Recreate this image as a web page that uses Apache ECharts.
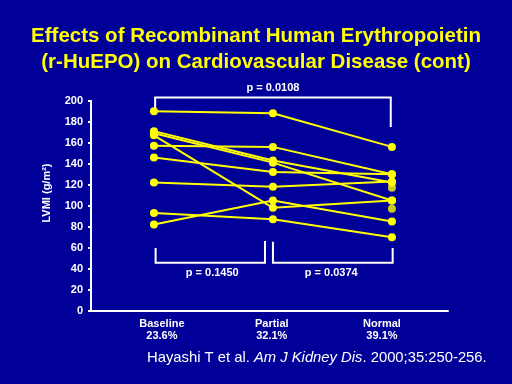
<!DOCTYPE html>
<html>
<head>
<meta charset="utf-8">
<script src="https://cdn.jsdelivr.net/npm/echarts@6/dist/echarts.min.js"></script>
<style>
html,body{margin:0;padding:0;background:#000099;}
#c{width:512px;height:384px;}
</style>
</head>
<body>
<div id="c"></div>
<script>
// Categories (x positions 0,1,2)
var categories = ['Baseline', 'Partial', 'Normal'];
var categoryPct = ['23.6%', '32.1%', '39.1%'];
// Individual patient LVMI values (g/m²): [Baseline, Partial, Normal]
var patient1 = [190, 188, 156];
var patient2 = [171, 143, 122];
var patient3 = [169, 141, 105];
var patient4 = [167, 98, 105];
var patient5 = [157, 156, 130];
var patient6 = [146, 132, 130];
var patient7 = [122, 118, 123];
var patient8 = [93, 87, 70];
var patient9 = [82, 105, 85];
// Normal-stage points drawn without connecting lines
var normalOnly = [117, 97];
// p-value annotations
var pTop = 'p = 0.0108';
var pLeft = 'p = 0.1450';
var pRight = 'p = 0.0374';
// Y-axis ticks
var yMin = 0, yMax = 200, yStep = 20;

var patients = [patient1, patient2, patient3, patient4, patient5, patient6, patient7, patient8, patient9];
var FONT = 'Liberation Sans, Arial, sans-serif';
var YEL = '#FFFF00';

var series = patients.map(function (p) {
  return {
    type: 'line',
    data: p.map(function (v, i) { return [i, v]; }),
    symbol: 'circle',
    symbolSize: 8,
    lineStyle: { color: YEL, width: 2 },
    itemStyle: { color: YEL },
    z: 3,
    animation: false
  };
});
series.push({
  type: 'scatter',
  data: normalOnly.map(function (v) { return [2, v]; }),
  symbol: 'circle',
  symbolSize: 8,
  itemStyle: { color: YEL },
  animation: false
});

var chart = echarts.init(document.getElementById('c'), null, { renderer: 'canvas' });
chart.setOption({
  backgroundColor: '#000099',
  animation: false,
  title: {
    text: 'Effects of Recombinant Human Erythropoietin\n(r-HuEPO) on Cardiovascular Disease (cont)',
    left: 'center',
    top: 18,
    textStyle: { color: YEL, fontFamily: FONT, fontWeight: 'bold', fontSize: 20.5, lineHeight: 26, align: 'center' }
  },
  grid: { left: 91, right: 64, top: 100.7, bottom: 73.3, containLabel: false },
  xAxis: {
    type: 'value',
    min: -0.529,
    max: 2.471,
    axisLine: { show: true, onZero: false, lineStyle: { color: '#FFFFFF', width: 2 } },
    axisTick: { show: false },
    splitLine: { show: false },
    axisLabel: {
      customValues: [0.067, 0.99, 1.916],
      color: '#FFFFFF',
      fontFamily: FONT,
      fontWeight: 'bold',
      fontSize: 11,
      lineHeight: 12,
      margin: 7,
      formatter: function (v) {
        var i = Math.round(v);
        return categories[i] + '\n' + categoryPct[i];
      }
    }
  },
  yAxis: {
    type: 'value',
    min: yMin,
    max: yMax,
    interval: yStep,
    axisLine: { show: true, onZero: false, lineStyle: { color: '#FFFFFF', width: 2 } },
    axisTick: { show: true, inside: false, length: 3, lineStyle: { color: '#FFFFFF', width: 2 } },
    splitLine: { show: false },
    axisLabel: { color: '#FFFFFF', fontFamily: FONT, fontWeight: 'bold', fontSize: 11, margin: 8 }
  },
  series: series
});

// Significance brackets, placed in data units through the chart's own scales
function px(x, y) { return chart.convertToPixel({ gridIndex: 0 }, [x, y]); }
var brackets = [
  { pts: [[0.01, 193], [0.01, 203], [1.99, 203], [1.99, 175]], label: pTop, at: [1.0, 212] },
  { pts: [[0.014, 59.7], [0.014, 45.7], [0.933, 45.7], [0.933, 66.4]], label: pLeft, at: [0.49, 36] },
  { pts: [[1.0, 65.7], [1.0, 45.7], [2.006, 45.7], [2.006, 59.7]], label: pRight, at: [1.49, 36] }
];
var graphics = [];
brackets.forEach(function (b) {
  graphics.push({
    type: 'polyline',
    shape: { points: b.pts.map(function (p) { return px(p[0], p[1]); }) },
    style: { stroke: '#FFFFFF', lineWidth: 2, fill: null },
    silent: true
  });
  var c = px(b.at[0], b.at[1]);
  graphics.push({
    type: 'text',
    x: c[0], y: c[1],
    style: { text: b.label, fill: '#FFFFFF', font: 'bold 11px ' + FONT, align: 'center', verticalAlign: 'middle' },
    silent: true
  });
});
// Y-axis title
graphics.push({
  type: 'text',
  x: 47, y: 193,
  rotation: Math.PI / 2,
  style: { text: 'LVMI (g/m²)', fill: '#FFFFFF', font: 'bold 11px ' + FONT, align: 'center', verticalAlign: 'middle' },
  silent: true
});
// Citation
graphics.push({
  type: 'text',
  left: 147,
  top: 350,
  style: {
    text: '{n|Hayashi T et al. }{i|Am J Kidney Dis}{n|. 2000;35:250-256.}',
    rich: {
      n: { fill: '#FFFFFF', fontFamily: FONT, fontSize: 14.8 },
      i: { fill: '#FFFFFF', fontFamily: FONT, fontSize: 14.8, fontStyle: 'italic' }
    }
  }
});
chart.setOption({ graphic: graphics });
</script>
</body>
</html>
